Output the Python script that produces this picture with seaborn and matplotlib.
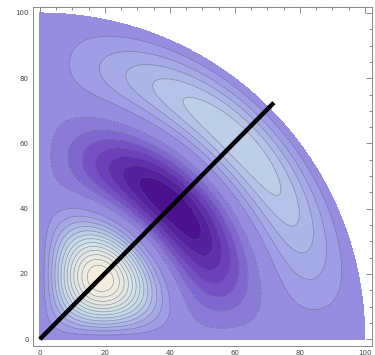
import numpy as np
import pandas as pd
import matplotlib
matplotlib.use("Agg")
import matplotlib.pyplot as plt
import seaborn as sns
from matplotlib.colors import LinearSegmentedColormap

# mode of the quarter disk: J_2(k r) sin(2 theta), zero on the rim
mode_order = 2
bessel_zero = 11.6198
radius = 100.0

# diagonal line drawn over the contours
line_x = [0, 72]
line_y = [0, 72.5]

tick_values = [0, 20, 40, 60, 80, 100]
tick_labels = ["0", "20", "40", "60", "80", "100"]
n_levels = 20
level_power = 1.4

# colour anchors (normalised value, colour)
cmap_stops = [(0.0, "#470a86"), (0.19, "#7048c0"), (0.38, "#9b97e6"),
              (0.65, "#c6dce9"), (0.85, "#e4e8e4"), (1.0, "#f7eddb")]


def bessel_j(n, x):
    tau = np.linspace(0, np.pi, 600)
    vals = np.cos(n * tau[None, :] - x[:, None] * np.sin(tau)[None, :])
    return np.trapezoid(vals, tau, axis=1) / np.pi


sns.set_style("white")

r = np.linspace(0, radius, 500)
th = np.linspace(0, np.pi / 2, 500)
R, TH = np.meshgrid(r, th)
X = R * np.cos(TH)
Y = R * np.sin(TH)
jr = bessel_j(mode_order, bessel_zero * r / radius)
F = jr[None, :] * np.sin(mode_order * TH)
G = np.sign(F) * np.abs(F) ** level_power

levels = np.linspace(G.min(), G.max(), n_levels + 2)
cmap = LinearSegmentedColormap.from_list("mma", cmap_stops)

fig, ax = plt.subplots(figsize=(3.75, 3.55), dpi=100)
fig.subplots_adjust(left=0.088, right=0.992, bottom=0.026, top=0.98)

ax.contourf(X, Y, G, levels=levels, cmap=cmap)
ax.contour(X, Y, G, levels=levels[1:-1], colors="#55556e", linewidths=0.5, alpha=0.55)

df_line = pd.DataFrame({"x": line_x, "y": line_y})
sns.lineplot(data=df_line, x="x", y="y", color="black", linewidth=3.2, ax=ax,
             solid_capstyle="butt")

ax.set_xlim(-2.1, 102.2)
ax.set_ylim(-2.0, 101.8)
ax.set_xlabel("")
ax.set_ylabel("")
ax.set_xticks(tick_values)
ax.set_xticklabels(tick_labels)
ax.set_yticks(tick_values)
ax.set_yticklabels(tick_labels)
ax.set_xticks(np.arange(0, 101, 5), minor=True)
ax.set_yticks(np.arange(0, 101, 5), minor=True)
ax.tick_params(which="both", direction="in", top=True, right=True,
               color="#777777", width=0.6)
ax.tick_params(which="major", length=4, labelsize=5, labelcolor="#444444", pad=3)
ax.tick_params(which="minor", length=2)
ax.tick_params(axis="x", labeltop=False)
ax.tick_params(axis="y", labelright=False)
for s in ax.spines.values():
    s.set_color("#888888")
    s.set_linewidth(0.7)

fig.savefig("out.png", dpi=100)
